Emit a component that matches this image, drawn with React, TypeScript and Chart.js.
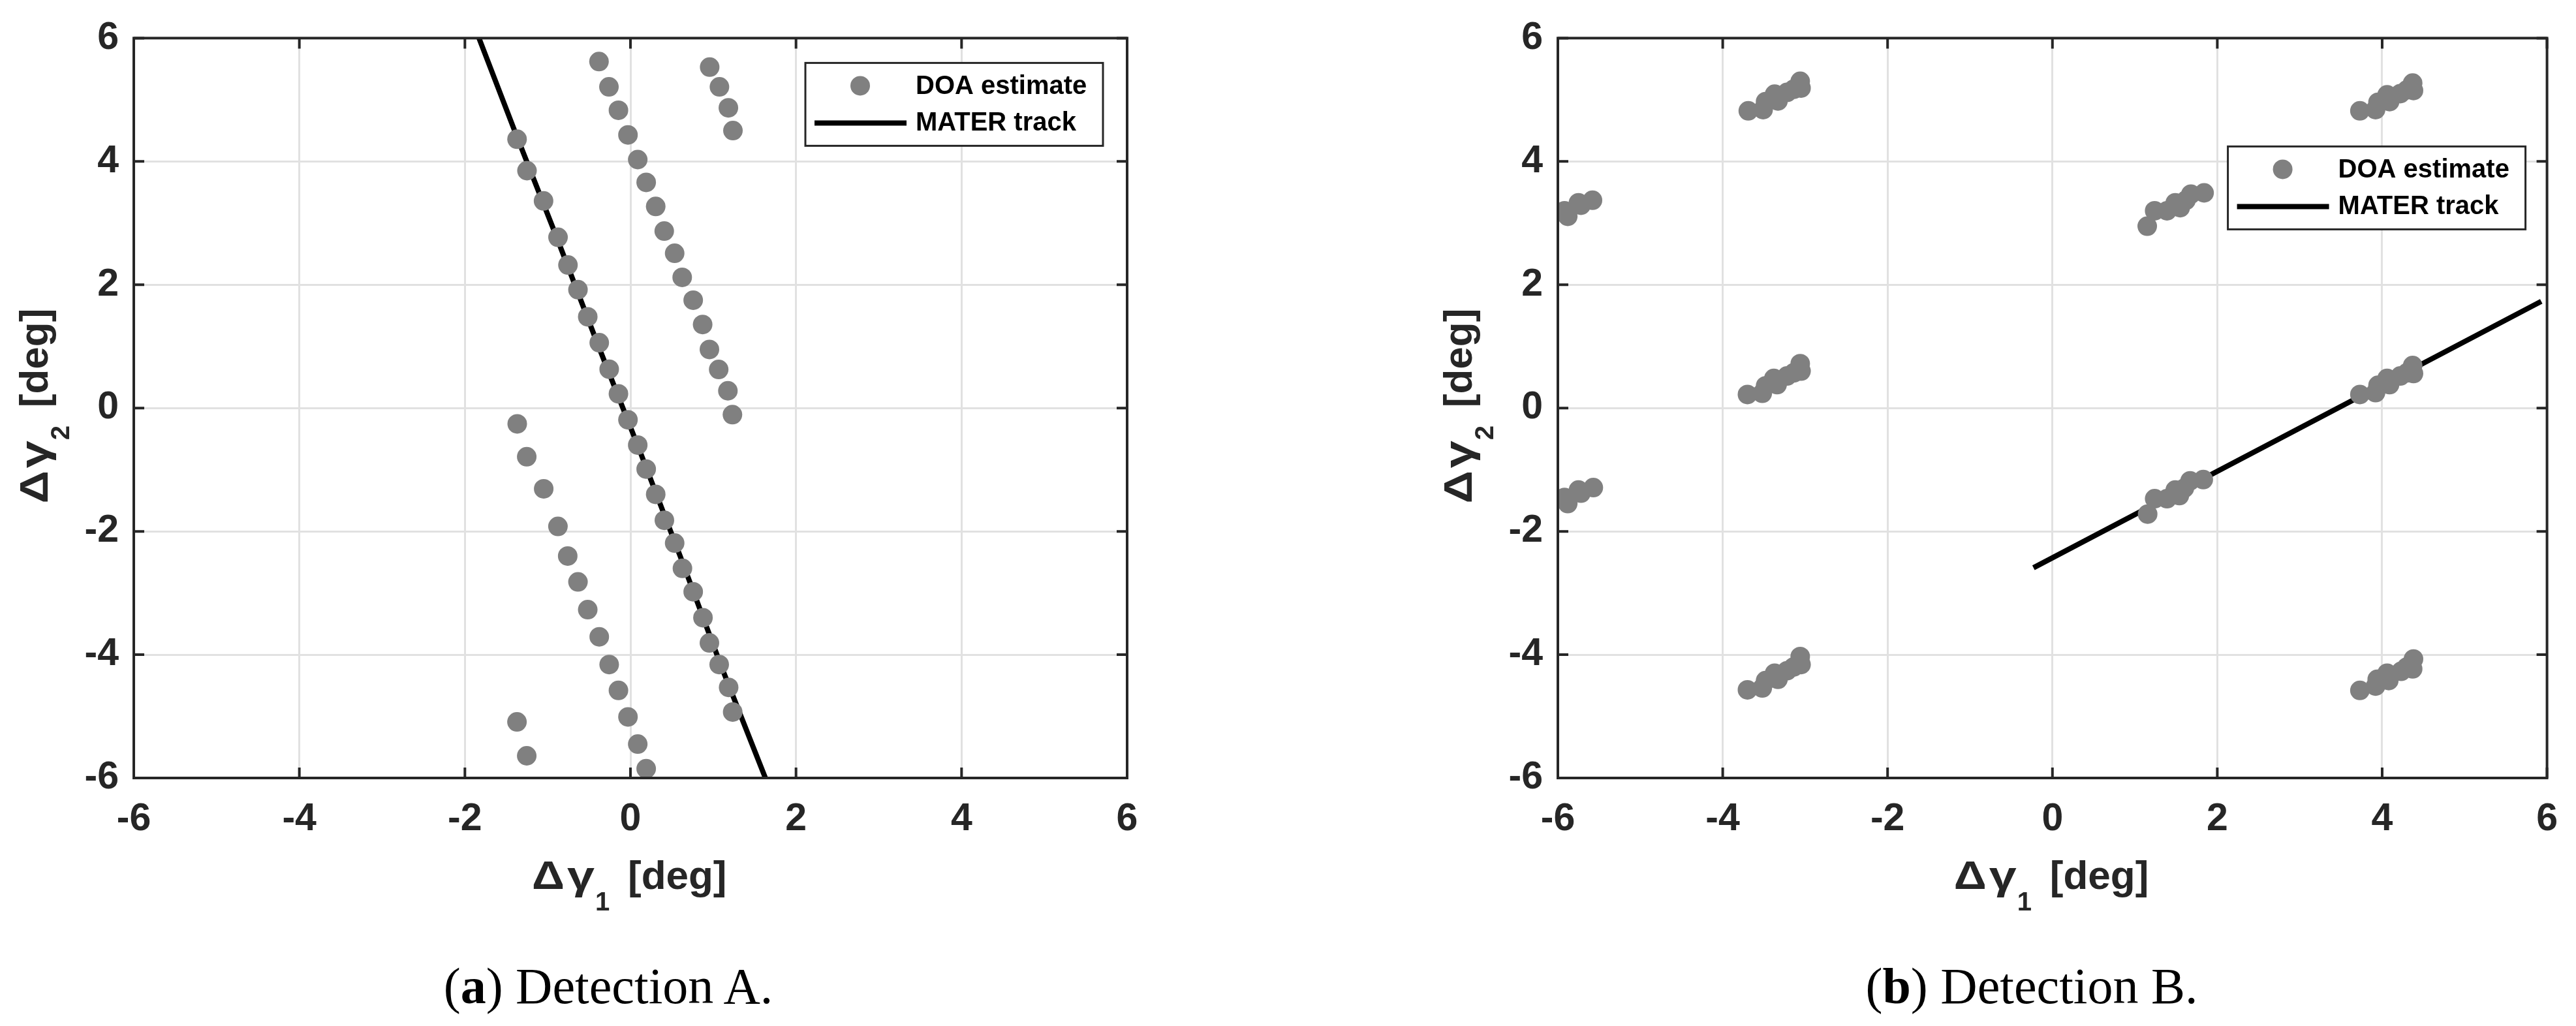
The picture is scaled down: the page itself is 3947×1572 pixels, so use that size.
import React, { useEffect, useRef } from "react";
import { Chart, registerables } from "chart.js";

Chart.register(...registerables);

// ---------- axis ----------
const AXIS_MIN = -6;
const AXIS_MAX = 6;
const TICK_STEP = 2;

// ---------- (a) Detection A : DOA estimates [Δγ1, Δγ2] in deg ----------
const detA_branchTrack: [number, number][] = [
  [-1.37, 4.36], [-1.25, 3.85], [-1.05, 3.36], [-0.875, 2.77], [-0.755, 2.32],
  [-0.634, 1.92], [-0.516, 1.48], [-0.377, 1.06], [-0.257, 0.63], [-0.145, 0.23],
  [-0.03, -0.19], [0.088, -0.6], [0.19, -0.99], [0.305, -1.4], [0.41, -1.82],
  [0.534, -2.19], [0.628, -2.6], [0.758, -2.98], [0.876, -3.4], [0.954, -3.81],
  [1.072, -4.16], [1.186, -4.53], [1.235, -4.93],
];
const detA_branchUpper: [number, number][] = [
  [-0.38, 5.62], [-0.26, 5.21], [-0.145, 4.83], [-0.03, 4.43], [0.088, 4.03],
  [0.19, 3.66], [0.305, 3.27], [0.408, 2.87], [0.534, 2.51], [0.625, 2.12],
  [0.758, 1.75], [0.872, 1.355], [0.954, 0.95], [1.066, 0.626], [1.177, 0.28],
  [1.232, -0.107],
];
const detA_branchLower: [number, number][] = [
  [-1.368, -0.257], [-1.253, -0.79], [-1.048, -1.31], [-0.876, -1.92], [-0.758, -2.4],
  [-0.634, -2.82], [-0.516, -3.27], [-0.377, -3.71], [-0.257, -4.16], [-0.145, -4.58],
  [-0.03, -5.01], [0.088, -5.45], [0.19, -5.85],
];
const detA_branchTopRight: [number, number][] = [
  [0.957, 5.53], [1.075, 5.21], [1.183, 4.87], [1.238, 4.5],
];
const detA_branchBottomLeft: [number, number][] = [
  [-1.371, -5.09], [-1.253, -5.64],
];
const detA_track: [number, number][] = [
  [-1.83, 6.0], [-1.4, 4.5], [-0.9, 2.8], [-0.4, 1.05], [0.1, -0.65],
  [0.6, -2.4], [1.1, -4.2], [1.63, -6.0],
];

// ---------- (b) Detection B : DOA estimate clusters ----------
const detB_clusterTopLeft: [number, number][] = [
  [-6.02, 3.18], [-5.92, 3.2], [-5.88, 3.11], [-5.75, 3.33], [-5.72, 3.29], [-5.58, 3.37],
];
const detB_clusterMidLeft: [number, number][] = [
  [-6.02, -1.48], [-5.92, -1.45], [-5.88, -1.55], [-5.75, -1.33], [-5.72, -1.38], [-5.57, -1.29],
];
const detB_clusterTop1: [number, number][] = [
  [-3.69, 4.82], [-3.51, 4.84], [-3.48, 4.97], [-3.37, 5.09], [-3.33, 4.98],
  [-3.22, 5.12], [-3.14, 5.17], [-3.06, 5.3], [-3.05, 5.19],
];
const detB_clusterMid1: [number, number][] = [
  [-3.7, 0.22], [-3.52, 0.24], [-3.48, 0.36], [-3.38, 0.48], [-3.34, 0.38],
  [-3.22, 0.52], [-3.14, 0.57], [-3.06, 0.72], [-3.05, 0.6],
];
const detB_clusterBot1: [number, number][] = [
  [-3.7, -4.57], [-3.52, -4.54], [-3.48, -4.42], [-3.37, -4.3], [-3.33, -4.4],
  [-3.22, -4.26], [-3.14, -4.2], [-3.06, -4.03], [-3.05, -4.16],
];
const detB_clusterUpper2: [number, number][] = [
  [1.15, 2.95], [1.24, 3.2], [1.39, 3.2], [1.49, 3.33], [1.55, 3.25],
  [1.62, 3.37], [1.68, 3.47], [1.84, 3.49],
];
const detB_clusterLower2: [number, number][] = [
  [1.155, -1.72], [1.24, -1.47], [1.39, -1.47], [1.49, -1.33], [1.54, -1.42],
  [1.6, -1.3], [1.67, -1.18], [1.83, -1.16],
];
const detB_clusterTop3: [number, number][] = [
  [3.73, 4.82], [3.92, 4.84], [3.95, 4.96], [4.06, 5.08], [4.09, 4.97],
  [4.22, 5.1], [4.3, 5.16], [4.37, 5.27], [4.38, 5.15],
];
const detB_clusterMid3: [number, number][] = [
  [3.73, 0.22], [3.92, 0.25], [3.95, 0.37], [4.06, 0.48], [4.09, 0.38],
  [4.22, 0.52], [4.3, 0.57], [4.37, 0.69], [4.38, 0.56],
];
const detB_clusterBot3: [number, number][] = [
  [3.73, -4.58], [3.92, -4.51], [3.94, -4.4], [4.06, -4.3], [4.08, -4.42],
  [4.23, -4.27], [4.3, -4.2], [4.37, -4.23], [4.38, -4.07],
];
const detB_track: [number, number][] = [
  [-0.23, -2.59], [5.93, 1.73],
];

const LABEL_DOA = "DOA estimate";
const LABEL_TRACK = "MATER track";

const toPts = (arr: [number, number][][]) =>
  arr.flat().map(([x, y]) => ({ x, y }));

const FONT = "'Liberation Sans', Arial, sans-serif";
const DARK = "#262626";

function fillFit(ctx: CanvasRenderingContext2D, s: string, x: number, y: number, w: number) {
  const m = ctx.measureText(s).width;
  ctx.save();
  ctx.translate(x, y);
  ctx.scale(w / m, 1);
  ctx.fillText(s, 0, 0);
  ctx.restore();
}

function drawTitle(
  ctx: CanvasRenderingContext2D,
  sub: string,
  ox: number,
  oy: number,
  rotate: boolean
) {
  ctx.save();
  ctx.translate(ox, oy);
  if (rotate) ctx.rotate(-Math.PI / 2);
  ctx.fillStyle = DARK;
  ctx.textBaseline = "alphabetic";
  ctx.textAlign = "left";
  const start = -151;
  ctx.font = `bold 62px ${FONT}`;
  fillFit(ctx, "\u0394", start, 0, 50);
  fillFit(ctx, "\u03b3", start + 54, 0, 42);
  ctx.font = `bold 40px ${FONT}`;
  ctx.fillText(sub, start + 97, 33);
  ctx.font = `bold 62px ${FONT}`;
  ctx.fillText("[deg]", start + 147, 0);
  ctx.restore();
}

function makeConfig(
  points: { x: number; y: number }[],
  track: [number, number][],
  canvasW: number,
  legendRight: number,
  legendTop: number
) {
  const framePlugin = {
    id: "frame",
    afterDatasetsDraw(chart: any) {
      const { ctx, chartArea: a, scales } = chart;
      ctx.save();
      ctx.strokeStyle = DARK;
      ctx.lineWidth = 4;
      const tl = 16;
      ctx.beginPath();
      for (let v = AXIS_MIN; v <= AXIS_MAX; v += TICK_STEP) {
        const px = scales.x.getPixelForValue(v);
        ctx.moveTo(px, a.bottom);
        ctx.lineTo(px, a.bottom - tl);
        ctx.moveTo(px, a.top);
        ctx.lineTo(px, a.top + tl);
        const py = scales.y.getPixelForValue(v);
        ctx.moveTo(a.left, py);
        ctx.lineTo(a.left + tl, py);
        ctx.moveTo(a.right, py);
        ctx.lineTo(a.right - tl, py);
      }
      ctx.stroke();
      ctx.strokeRect(a.left, a.top, a.right - a.left, a.bottom - a.top);
      ctx.restore();
    },
  };
  const titlePlugin = {
    id: "titles",
    afterDraw(chart: any) {
      const { ctx, chartArea: a } = chart;
      const cx = (a.left + a.right) / 2;
      const cy = (a.top + a.bottom) / 2;
      drawTitle(ctx, "1", cx, a.bottom + 170, false);
      drawTitle(ctx, "2", a.left - 132, cy - 5, true);
    },
  };
  const legendPlugin = {
    id: "boxLegend",
    afterDraw(chart: any) {
      const { ctx, chartArea: a } = chart;
      const w = 456;
      const h = 127;
      const x = a.right - legendRight - w;
      const y = a.top + legendTop;
      ctx.save();
      ctx.fillStyle = "#ffffff";
      ctx.fillRect(x, y, w, h);
      ctx.strokeStyle = DARK;
      ctx.lineWidth = 3;
      ctx.strokeRect(x, y, w, h);
      ctx.fillStyle = "#808080";
      ctx.beginPath();
      ctx.arc(x + 84, y + 35, 15, 0, Math.PI * 2);
      ctx.fill();
      ctx.strokeStyle = "#000";
      ctx.lineWidth = 8;
      ctx.beginPath();
      ctx.moveTo(x + 14, y + 92);
      ctx.lineTo(x + 155, y + 92);
      ctx.stroke();
      ctx.fillStyle = "#000";
      ctx.font = `bold 40px ${FONT}`;
      ctx.textBaseline = "middle";
      ctx.textAlign = "left";
      ctx.fillText(chart.data.datasets[0].label, x + 169, y + 37);
      ctx.fillText(chart.data.datasets[1].label, x + 169, y + 93);
      ctx.restore();
    },
  };

  const scaleBase = (axis: "x" | "y") => ({
    type: "linear" as const,
    min: AXIS_MIN,
    max: AXIS_MAX,
    border: { display: false },
    grid: { color: "#e1e1e1", lineWidth: 3, drawTicks: false },
    ticks: {
      stepSize: TICK_STEP,
      autoSkip: false,
      maxRotation: 0,
      color: DARK,
      padding: axis === "x" ? 28 : 23,
      font: { family: FONT, size: 59, weight: "bold" as const },
      callback: (v: any) => String(v),
    },
    afterFit: (scale: any) => {
      if (axis === "x") scale.height = 208;
      else scale.width = 205;
    },
  });

  return {
    type: "scatter" as const,
    data: {
      datasets: [
        {
          label: LABEL_DOA,
          data: points,
          pointRadius: 15,
          pointHoverRadius: 15,
          pointBackgroundColor: "#808080",
          pointBorderWidth: 0,
          showLine: false,
        },
        {
          label: LABEL_TRACK,
          data: track.map(([x, y]) => ({ x, y })),
          showLine: true,
          pointRadius: 0,
          borderColor: "#000000",
          borderWidth: 8,
          tension: 0,
          fill: false,
        },
      ],
    },
    options: {
      animation: false as const,
      responsive: false,
      devicePixelRatio: 1,
      events: [],
      layout: { padding: { left: 0, top: 46, right: canvasW - 1727, bottom: 0 } },
      plugins: { legend: { display: false }, tooltip: { enabled: false } },
      scales: { x: scaleBase("x"), y: scaleBase("y") },
    },
    plugins: [framePlugin, titlePlugin, legendPlugin],
  };
}

export default function App() {
  const refA = useRef<HTMLCanvasElement>(null);
  const refB = useRef<HTMLCanvasElement>(null);

  useEffect(() => {
    const ptsA = toPts([
      detA_branchTrack, detA_branchUpper, detA_branchLower,
      detA_branchTopRight, detA_branchBottomLeft,
    ]);
    const ptsB = toPts([
      detB_clusterTopLeft, detB_clusterMidLeft, detB_clusterTop1, detB_clusterMid1,
      detB_clusterBot1, detB_clusterUpper2, detB_clusterLower2, detB_clusterTop3,
      detB_clusterMid3, detB_clusterBot3,
    ]);
    const chartA = new Chart(refA.current as HTMLCanvasElement, makeConfig(ptsA, detA_track, 1850, 37, 38) as any);
    const chartB = new Chart(refB.current as HTMLCanvasElement, makeConfig(ptsB, detB_track, 1765, 33, 166) as any);
    return () => {
      chartA.destroy();
      chartB.destroy();
    };
  }, []);

  const captionStyle: React.CSSProperties = {
    position: "absolute",
    top: 1472,
    width: 900,
    textAlign: "center",
    fontFamily: "'Liberation Serif', 'Times New Roman', serif",
    fontSize: 78,
    lineHeight: "78px",
    whiteSpace: "nowrap",
    color: "#000",
  };

  return (
    <div style={{ position: "absolute", left: 0, top: 0, width: 3947, height: 1572, background: "#fff", overflow: "hidden" }}>
      <canvas ref={refA} width={1850} height={1400} style={{ position: "absolute", left: 0, top: 0, width: 1850, height: 1400 }} />
      <canvas ref={refB} width={1765} height={1400} style={{ position: "absolute", left: 2182, top: 0, width: 1765, height: 1400 }} />
      <div style={{ ...captionStyle, left: 932 - 450 }}>
        (<b>a</b>) Detection A.
      </div>
      <div style={{ ...captionStyle, left: 3113 - 450 }}>
        (<b>b</b>) Detection B.
      </div>
    </div>
  );
}
